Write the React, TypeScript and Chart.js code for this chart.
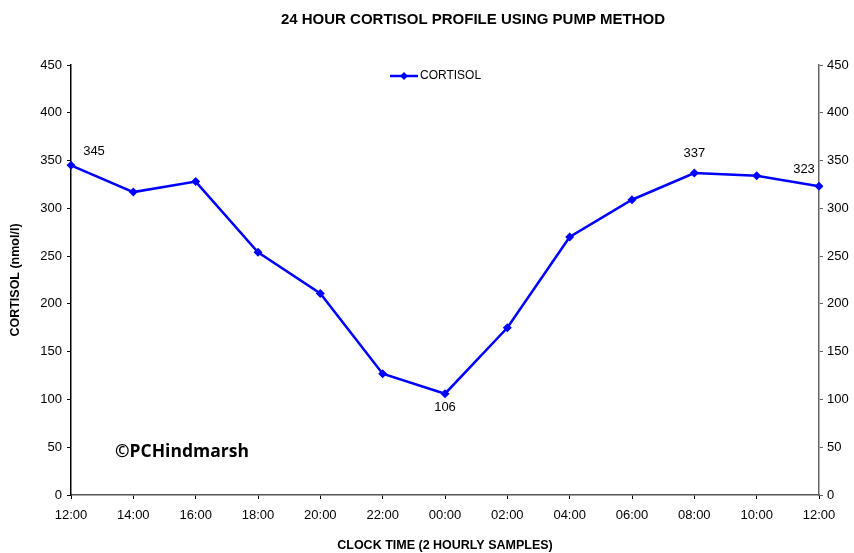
import React, { useEffect, useRef } from "react";
import { Chart, registerables } from "chart.js";

Chart.register(...registerables);

const categories = ["12:00", "14:00", "16:00", "18:00", "20:00", "22:00", "00:00", "02:00", "04:00", "06:00", "08:00", "10:00", "12:00"];
const cortisol = [345, 317, 328, 254, 211, 127, 106, 175, 270, 309, 337, 334, 323];
const labelledPoints = [0, 6, 10, 12];
const chartTitle = "24 HOUR CORTISOL PROFILE USING PUMP METHOD";
const xTitle = "CLOCK TIME (2 HOURLY SAMPLES)";
const yTitle = "CORTISOL (nmol/l)";
const seriesName = "CORTISOL";
const watermark = "©PCHindmarsh";

const FONT = "'Liberation Sans', Arial, sans-serif";

const overlay = {
  id: "overlay",
  afterDatasetsDraw(chart: any) {
    const ctx = chart.ctx;
    const meta = chart.getDatasetMeta(0);
    ctx.save();
    // title
    ctx.fillStyle = "#000";
    ctx.font = `bold 15px ${FONT}`;
    ctx.textAlign = "center";
    ctx.textBaseline = "middle";
    ctx.fillText(chartTitle, 473, 20);
    // legend
    ctx.strokeStyle = "#0000FF";
    ctx.lineWidth = 2.5;
    ctx.beginPath();
    ctx.moveTo(390, 76);
    ctx.lineTo(418, 76);
    ctx.stroke();
    ctx.fillStyle = "#0000FF";
    ctx.beginPath();
    ctx.moveTo(404, 72);
    ctx.lineTo(408, 76);
    ctx.lineTo(404, 80);
    ctx.lineTo(400, 76);
    ctx.closePath();
    ctx.fill();
    ctx.fillStyle = "#000";
    ctx.font = `12px ${FONT}`;
    ctx.textAlign = "left";
    ctx.fillText(seriesName, 420, 76);
    // data labels
    ctx.font = `13px ${FONT}`;
    ctx.textAlign = "center";
    labelledPoints.forEach((i) => {
      const el = meta.data[i];
      if (!el) return;
      let dx = 0;
      let dy = -20;
      if (i === 0) { dx = 23; dy = -14; }
      if (i === 6) { dx = 0; dy = 14; }
      if (i === categories.length - 1) { dx = -15; dy = -17; }
      ctx.fillText(String(cortisol[i]), el.x + dx, el.y + dy);
    });
    // watermark
    ctx.font = `bold 17.5px 'Open Sans', sans-serif`;
    ctx.textAlign = "left";
    ctx.fillText(watermark, 115, 452);
    ctx.restore();
  },
};

export default function App() {
  const ref = useRef<HTMLCanvasElement>(null);
  useEffect(() => {
    if (!ref.current) return;
    const chart = new Chart(ref.current, {
      type: "line",
      data: {
        labels: categories,
        datasets: [
          {
            label: seriesName,
            data: cortisol,
            borderColor: "#0000FF",
            backgroundColor: "#0000FF",
            borderWidth: 2.5,
            pointStyle: "rectRot",
            pointRadius: 4.5,
            pointBorderWidth: 0,
            tension: 0,
            yAxisID: "y",
          },
        ],
      },
      options: {
        animation: false,
        responsive: false,
        layout: { padding: { top: 65, left: 0, right: 0, bottom: 0 } },
        plugins: {
          legend: { display: false },
          title: { display: false },
          tooltip: { enabled: false },
        },
        scales: {
          x: {
            type: "category",
            offset: false,
            grid: { drawOnChartArea: false, drawTicks: true, tickLength: 4, color: "#000" },
            border: { color: "#555", width: 1.5 },
            ticks: { color: "#000", font: { size: 13, family: FONT }, padding: 9, maxRotation: 0, autoSkip: false },
            title: { display: true, text: xTitle, color: "#000", font: { size: 12.5, weight: "bold", family: FONT }, padding: { top: 20, bottom: 0 } },
            afterFit: (s: any) => { s.height = 58; },
          },
          y: {
            position: "left",
            min: 0,
            max: 450,
            grid: { drawOnChartArea: false, drawTicks: true, tickLength: 4, color: "#000" },
            border: { color: "#000", width: 1.5 },
            ticks: { stepSize: 50, color: "#000", font: { size: 13, family: FONT }, padding: 5 },
            title: { display: true, text: yTitle, color: "#000", font: { size: 12.5, weight: "bold", family: FONT }, padding: { top: 8, bottom: 4 } },
            afterFit: (s: any) => { s.width = 71; },
          },
          y2: {
            position: "right",
            min: 0,
            max: 450,
            grid: { drawOnChartArea: false, drawTicks: true, tickLength: 4, color: "#666" },
            border: { color: "#666", width: 1.5 },
            ticks: { stepSize: 50, color: "#000", font: { size: 13, family: FONT }, padding: 4 },
            afterFit: (s: any) => { s.width = 35; },
          },
        },
      },
      plugins: [overlay],
    });
    return () => chart.destroy();
  }, []);
  return (
    <div style={{ position: "fixed", left: 0, top: 0, width: 854, height: 553, background: "#fff" }}>
      <canvas ref={ref} width={854} height={553} />
    </div>
  );
}
